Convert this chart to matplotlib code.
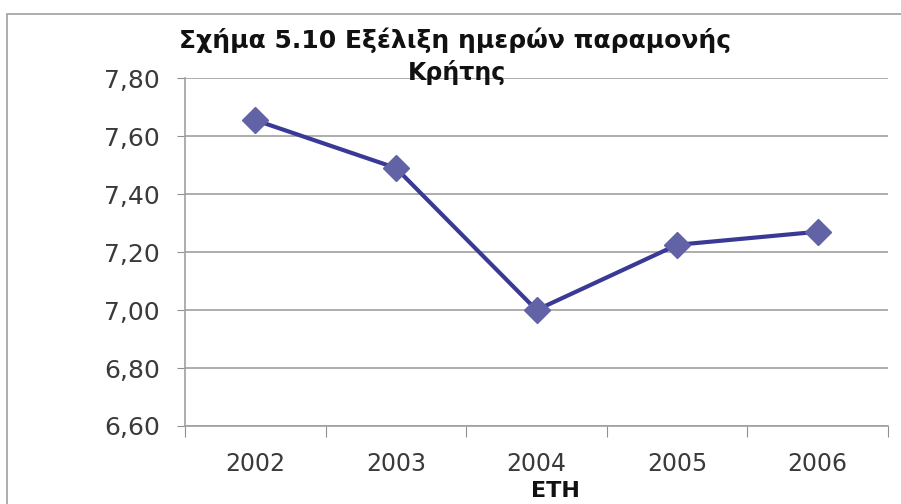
import matplotlib
matplotlib.use("Agg")
import matplotlib.pyplot as plt
from matplotlib.patches import Rectangle

plt.rcParams['font.family'] = ['DejaVu Sans']

years = ['2002', '2003', '2004', '2005', '2006']
days = [7.655, 7.49, 7.00, 7.225, 7.27]
yticks = [6.60, 6.80, 7.00, 7.20, 7.40, 7.60, 7.80]

fig = plt.figure(figsize=(9.01, 5.04), dpi=100)
ax = fig.add_axes([0.2053, 0.1548, 0.7803, 0.6902])

# outer frame of the chart
fig.patches.append(Rectangle((0.0078, -0.1), 1.1, 1.072, transform=fig.transFigure,
                             fill=False, edgecolor='#a0a0a0', linewidth=1.2))

x = range(len(years))
ax.plot(x, days, color='#3a3a96', linewidth=3, marker='D', markersize=13,
        markerfacecolor='#6262a6', markeredgecolor='#6262a6', zorder=3)

ax.set_xlim(-0.5, len(years) - 0.5)
ax.set_ylim(6.60, 7.80)
ax.set_yticks(yticks)
ax.set_yticklabels([f'{v:.2f}'.replace('.', ',') for v in yticks], fontsize=18, color='#3a3a3a')
ax.set_xticks([i - 0.5 for i in range(len(years) + 1)], minor=False)
ax.set_xticklabels([])
ax.set_xticks(list(x), minor=True)
ax.set_xticklabels(years, minor=True, fontsize=17, color='#3a3a3a')
ax.tick_params(axis='x', which='major', length=8, color='#909090', direction='out')
ax.tick_params(axis='x', which='minor', length=0, pad=19)
ax.tick_params(axis='y', length=6, color='#909090', pad=12)

ax.grid(axis='y', color='#a0a0a0', linewidth=1.2)
ax.set_axisbelow(True)
for s in ['top', 'right']:
    ax.spines[s].set_visible(False)
for s in ['left', 'bottom']:
    ax.spines[s].set_color('#a0a0a0')
    ax.spines[s].set_linewidth(1.2)

fig.text(0.505, 0.92, 'Σχήμα 5.10 Εξέλιξη ημερών παραμονής', ha='center', va='center',
         fontsize=18, fontweight='bold', color='#111111')
fig.text(0.507, 0.857, 'Κρήτης', ha='center', va='center',
         fontsize=17, fontweight='bold', color='#111111')
fig.text(0.617, 0.026, 'ΕΤΗ', ha='center', va='center',
         fontsize=16, fontweight='bold', color='#111111')

fig.savefig('out.png', dpi=100)
